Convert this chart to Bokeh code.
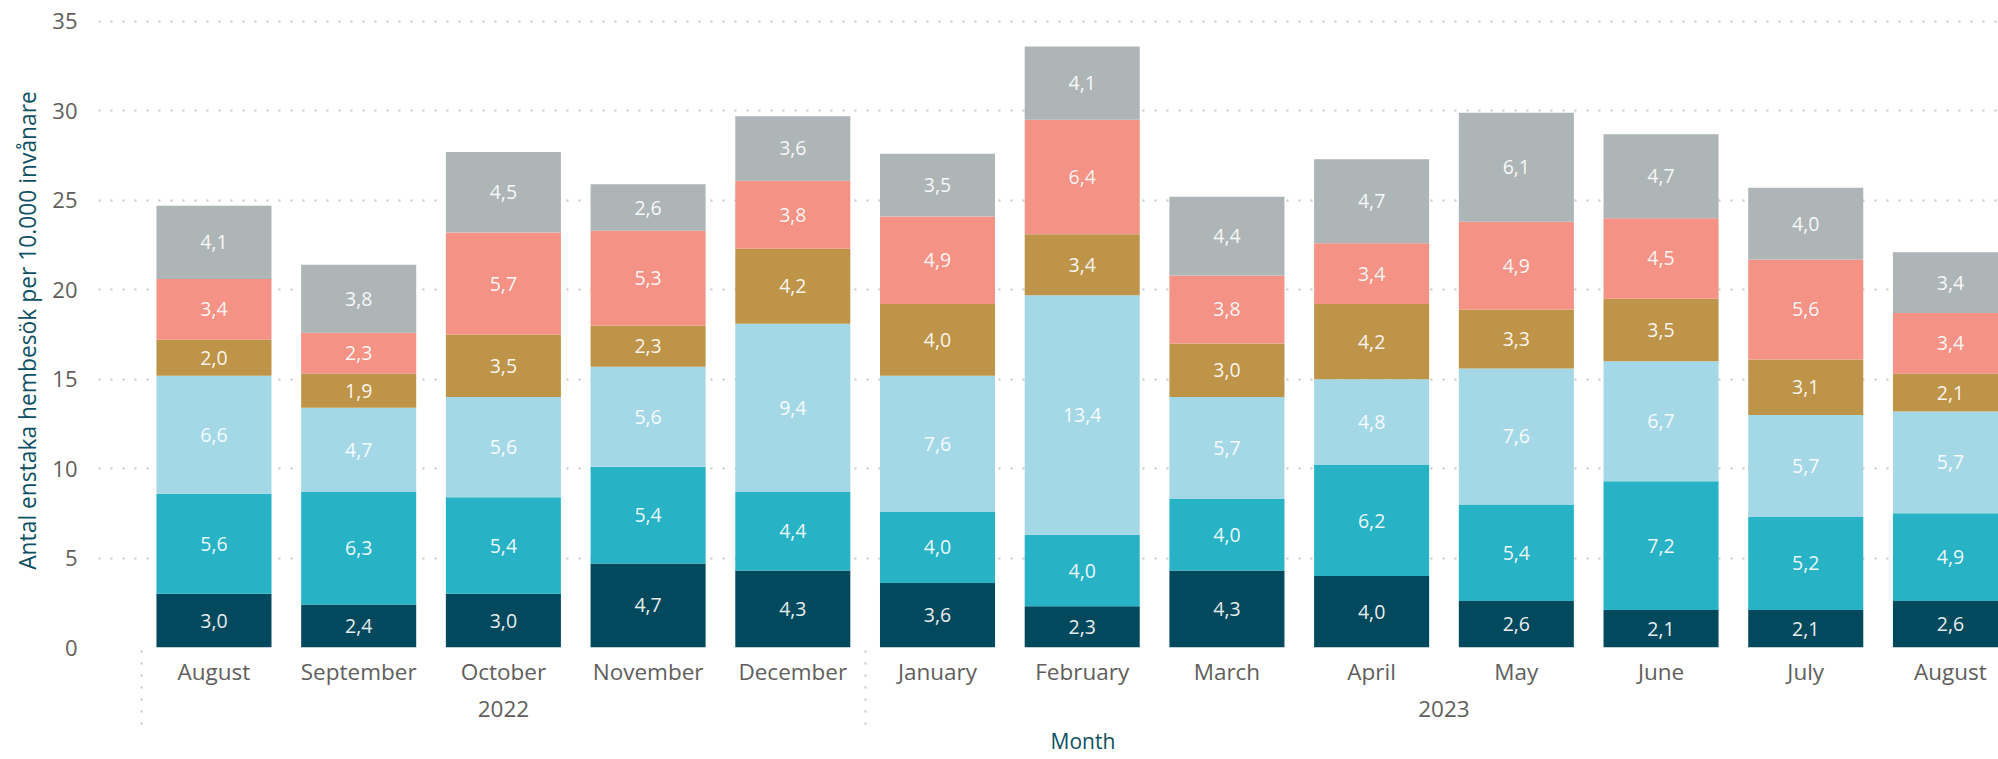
from bokeh.plotting import figure
from bokeh.models import (ColumnDataSource, FixedTicker, LinearAxis, Range1d, Title, LabelSet)
from bokeh.core.properties import value
from bokeh.embed import file_html
from bokeh.resources import INLINE

months = ["August", "September", "October", "November", "December",
          "January", "February", "March", "April", "May", "June", "July", "August"]
years = ["2022", "2023"]
year_of_month = ["2022"] * 5 + ["2023"] * 8

series_names = ["Serie 1", "Serie 2", "Serie 3", "Serie 4", "Serie 5", "Serie 6"]
s1 = [3.0, 2.4, 3.0, 4.7, 4.3, 3.6, 2.3, 4.3, 4.0, 2.6, 2.1, 2.1, 2.6]
s2 = [5.6, 6.3, 5.4, 5.4, 4.4, 4.0, 4.0, 4.0, 6.2, 5.4, 7.2, 5.2, 4.9]
s3 = [6.6, 4.7, 5.6, 5.6, 9.4, 7.6, 13.4, 5.7, 4.8, 7.6, 6.7, 5.7, 5.7]
s4 = [2.0, 1.9, 3.5, 2.3, 4.2, 4.0, 3.4, 3.0, 4.2, 3.3, 3.5, 3.1, 2.1]
s5 = [3.4, 2.3, 5.7, 5.3, 3.8, 4.9, 6.4, 3.8, 3.4, 4.9, 4.5, 5.6, 3.4]
s6 = [4.1, 3.8, 4.5, 2.6, 3.6, 3.5, 4.1, 4.4, 4.7, 6.1, 4.7, 4.0, 3.4]
series = [s1, s2, s3, s4, s5, s6]
colors = ["#02495D", "#27B2C6", "#A5D8E6", "#BE9448", "#F39285", "#ADB5B7"]
y_ticks = [0, 5, 10, 15, 20, 25, 30, 35]

FONT = "Open Sans"
TICK_COLOR = "#605E5C"
TITLE_COLOR = "#0E4F63"
GRID_COLOR = "#C8C6C4"

x = list(range(len(months)))

p = figure(width=1998, height=759, output_backend="svg", toolbar_location=None,
           x_range=Range1d(-0.798, 12.332), y_range=Range1d(0, 35.447),
           min_border_left=98, min_border_right=0, min_border_top=13, min_border_bottom=111)
p.outline_line_color = None
p.background_fill_color = "white"
p.border_fill_color = "white"

bottom = [0.0] * len(months)
for name, vals, col in zip(series_names, series, colors):
    top = [b + v for b, v in zip(bottom, vals)]
    mid = [(b + t) / 2 for b, t in zip(bottom, top)]
    lab = [f"{v:.1f}".replace(".", ",") for v in vals]
    src = ColumnDataSource(dict(x=x, bottom=bottom, top=top, mid=mid, lab=lab))
    p.vbar(x="x", bottom="bottom", top="top", width=0.795, source=src,
           fill_color=col, line_color=None)
    p.add_layout(LabelSet(x="x", y="mid", text="lab", source=src, text_align="center",
                          text_baseline="middle", text_color="white", text_alpha=0.93,
                          text_font=value(FONT), text_font_size=value("19.5px")))
    bottom = top

# y axis
p.yaxis.ticker = FixedTicker(ticks=y_ticks)
p.yaxis.axis_line_color = None
p.yaxis.major_tick_line_color = None
p.yaxis.minor_tick_line_color = None
p.yaxis.major_tick_out = 0
p.yaxis.minor_tick_out = 0
p.yaxis.major_label_standoff = 21
p.yaxis.major_label_text_font = FONT
p.yaxis.major_label_text_font_size = "22px"
p.yaxis.major_label_text_color = TICK_COLOR
p.yaxis.axis_label = "Antal enstaka hembesök per 10.000 invånare"
p.yaxis.axis_label_text_font = FONT
p.yaxis.axis_label_text_font_size = "22.8px"
p.yaxis.axis_label_text_font_style = "normal"
p.yaxis.axis_label_text_color = TITLE_COLOR
p.yaxis.axis_label_standoff = 6

p.ygrid.ticker = FixedTicker(ticks=y_ticks)
p.ygrid.grid_line_color = GRID_COLOR
p.ygrid.grid_line_dash = "2 10"
p.ygrid.grid_line_width = 2
p.xgrid.grid_line_color = None

# group boundaries (drawn as long dotted minor ticks of the month axis)
bounds = [-0.5]
for i in range(1, len(year_of_month)):
    if year_of_month[i] != year_of_month[i - 1]:
        bounds.append(i - 0.5)

SEP_LEN = 77
# month axis
p.xaxis.ticker = FixedTicker(ticks=x, minor_ticks=bounds)
p.xaxis.major_label_overrides = {i: m for i, m in enumerate(months)}
p.xaxis.axis_line_color = None
p.xaxis.major_tick_line_color = None
p.xaxis.major_tick_out = 0
p.xaxis.major_tick_in = 0
p.xaxis.minor_tick_in = 0
p.xaxis.minor_tick_out = SEP_LEN
p.xaxis.minor_tick_line_color = GRID_COLOR
p.xaxis.minor_tick_line_width = 2
p.xaxis.minor_tick_line_dash = "2 10"
p.xaxis.major_label_standoff = 8 - SEP_LEN
p.xaxis.major_label_text_font = FONT
p.xaxis.major_label_text_font_size = "22.5px"
p.xaxis.major_label_text_color = TICK_COLOR

# year axis
year_pos = []
for yv in years:
    idx = [i for i, yy in enumerate(year_of_month) if yy == yv]
    year_pos.append((idx[0] + idx[-1]) / 2)
xaxis2 = LinearAxis(ticker=FixedTicker(ticks=year_pos),
                    major_label_overrides={pos: yv for pos, yv in zip(year_pos, years)})
xaxis2.axis_line_color = None
xaxis2.major_tick_line_color = None
xaxis2.minor_tick_line_color = None
xaxis2.major_tick_out = 0
xaxis2.major_tick_in = 0
xaxis2.minor_tick_out = 0
xaxis2.major_label_standoff = 11
xaxis2.major_label_text_font = FONT
xaxis2.major_label_text_font_size = "22.5px"
xaxis2.major_label_text_color = TICK_COLOR
p.add_layout(xaxis2, "below")

p.add_layout(Title(text="Month", align="left", vertical_align="bottom", offset=952,
                   text_font=FONT, text_font_size="21px", text_font_style="normal",
                   text_color=TITLE_COLOR, standoff=10), "below")

open("out.html", "w").write(file_html(p, INLINE))
